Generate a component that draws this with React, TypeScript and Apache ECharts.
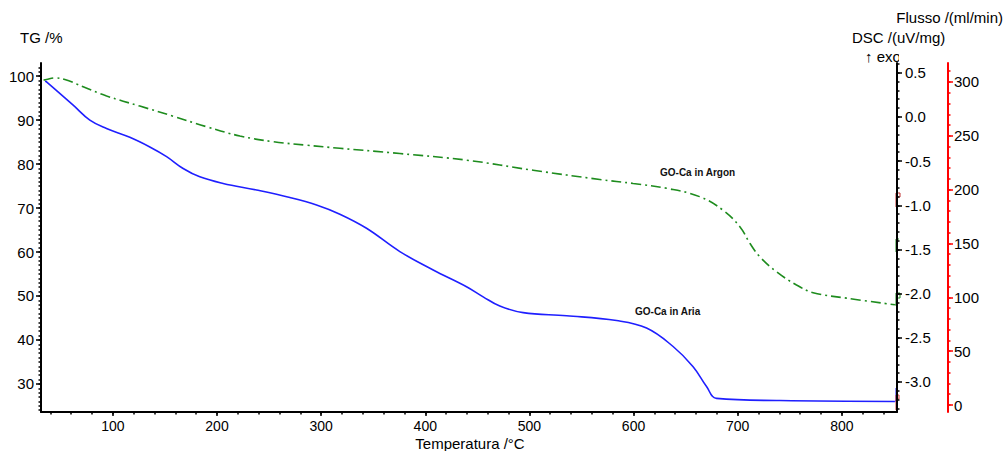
import React, { useEffect, useRef } from "react";
import * as echarts from "echarts";

// ---- data ----
const tempAria = [35, 36.3, 61.9, 77.9, 93.9, 116.3, 135.5, 151.6, 167.5, 183.5, 205.9, 238, 270, 295.6, 318, 343.6, 375.6, 407.6, 439.6, 455.6, 471.6, 494, 535.7, 583.7, 612.5, 638, 657.2, 670.1, 679.7, 740.5, 851];
const tgAria = [98.9, 98.7, 93.4, 90.0, 88.1, 86.1, 83.9, 81.7, 79.0, 77.1, 75.6, 74.1, 72.4, 70.7, 68.6, 65.4, 60.1, 55.9, 52.1, 49.8, 47.7, 46.2, 45.5, 44.4, 42.7, 38.5, 33.9, 29.4, 26.7, 26.2, 26.0];

const tempArgon = [33.5, 36.3, 44.3, 53.9, 71.5, 94, 125.9, 157.9, 190, 222, 253.9, 286, 318, 375.6, 439.6, 503.6, 567.6, 599.6, 631.7, 663.4, 686, 702.1, 711.7, 721.3, 737.3, 756.5, 772.5, 804.5, 851];
const tgArgon = [99.1, 99.25, 99.6, 99.25, 97.6, 95.5, 93.2, 90.9, 88.5, 86.4, 85.1, 84.3, 83.6, 82.4, 80.9, 78.6, 76.5, 75.6, 74.5, 72.6, 69.5, 65.75, 62.0, 58.9, 55.5, 52.5, 50.75, 49.5, 48.0];

const xTicks = [100, 200, 300, 400, 500, 600, 700, 800];
const tgTicks = [30, 40, 50, 60, 70, 80, 90, 100];
const dscTicks = [-3.0, -2.5, -2.0, -1.5, -1.0, -0.5, 0.0, 0.5];
const flowTicks = [0, 50, 100, 150, 200, 250, 300];

const xRange = [31, 853];
const tgRange = [23.6, 103];
const dscRange = [-3.34, 0.61];
const flowRange = [-6.5, 317.6];

function steps(from: number, to: number, step: number): number[] {
  const out: number[] = [];
  const n = Math.round((to - from) / step);
  for (let i = 0; i <= n; i++) out.push(Math.round((from + i * step) * 1000) / 1000);
  return out;
}

const FONT = "'Liberation Sans', Arial, Helvetica, sans-serif";

export default function App() {
  const ref = useRef<HTMLDivElement>(null);
  useEffect(() => {
    document.body.style.margin = "0";
    if (!ref.current) return;
    const chart = echarts.init(ref.current, undefined, { renderer: "svg" });

    const xMinor = steps(40, 840, 20);
    const tgMinor = steps(24, 102, 1);
    const dscMinor = steps(-3.3, 0.6, 0.1);
    const flowMinor = steps(0, 310, 10);

    const lbl = { color: "#000", fontSize: 15, fontFamily: FONT };
    const blank = () => "";

    const minorAxis = (range: number[], vals: number[], color: string, extra: any) => ({
      type: "value", min: range[0], max: range[1],
      axisLine: { show: true, onZero: false, lineStyle: { color: "rgba(0,0,0,0)", width: 0 } },
      axisTick: { show: true, length: 2.5, customValues: vals, lineStyle: { color, width: 1.5 } },
      axisLabel: { show: true, customValues: vals, formatter: blank },
      splitLine: { show: false },
      ...extra,
    });

    const option: any = {
      animation: false,
      backgroundColor: "#fff",
      grid: { left: 41, right: 110, top: 63, bottom: 39 },
      xAxis: [
        {
          type: "value", min: xRange[0], max: xRange[1], position: "bottom",
          axisLine: { show: true, onZero: false, lineStyle: { color: "#000", width: 2 } },
          axisTick: { show: true, length: 4, customValues: xTicks, lineStyle: { color: "#000", width: 1.5 } },
          axisLabel: { ...lbl, fontSize: 14, customValues: xTicks, margin: 7 },
          splitLine: { show: false },
        },
        minorAxis(xRange, xMinor, "#000", { position: "bottom" }),
      ],
      yAxis: [
        {
          type: "value", min: tgRange[0], max: tgRange[1], position: "left",
          axisLine: { show: true, onZero: false, lineStyle: { color: "#000", width: 2 } },
          axisTick: { show: true, length: 5, customValues: tgTicks, lineStyle: { color: "#000", width: 1.5 } },
          axisLabel: { ...lbl, customValues: tgTicks, margin: 7 },
          splitLine: { show: false },
        },
        minorAxis(tgRange, tgMinor, "#000", { position: "left" }),
        {
          type: "value", min: dscRange[0], max: dscRange[1], position: "right", offset: 0,
          axisLine: { show: true, onZero: false, lineStyle: { color: "#000", width: 2 } },
          axisTick: { show: true, length: 5, customValues: dscTicks, lineStyle: { color: "#000", width: 1.5 } },
          axisLabel: { ...lbl, customValues: dscTicks, margin: 8, formatter: (v: number) => v.toFixed(1) },
          splitLine: { show: false },
        },
        minorAxis(dscRange, dscMinor, "#000", { position: "right", offset: 0 }),
        {
          type: "value", min: flowRange[0], max: flowRange[1], position: "right", offset: 51,
          axisLine: { show: true, onZero: false, lineStyle: { color: "#ff0000", width: 2 } },
          axisTick: { show: true, length: 5, customValues: flowTicks, lineStyle: { color: "#ff0000", width: 1.5 } },
          axisLabel: { ...lbl, customValues: flowTicks, margin: 6 },
          splitLine: { show: false },
        },
        minorAxis(flowRange, flowMinor, "#ff0000", { position: "right", offset: 51 }),
      ],
      series: [
        {
          name: "GO-Ca in Aria", type: "line", xAxisIndex: 0, yAxisIndex: 0,
          data: tempAria.map((t, i) => [t, tgAria[i]]),
          showSymbol: false, smooth: 0.4,
          lineStyle: { color: "#1f1fff", width: 1.6 },
        },
        {
          name: "GO-Ca in Argon", type: "line", xAxisIndex: 0, yAxisIndex: 0,
          data: tempArgon.map((t, i) => [t, tgArgon[i]]),
          showSymbol: false, smooth: 0.4,
          lineStyle: { color: "#1e8c1e", width: 1.6, type: [10, 4, 2, 4] },
        },
      ],
      graphic: [
        { type: "text", x: 20, y: 37, style: { text: "TG /%", fontSize: 15, fontFamily: FONT, fill: "#000", align: "left", verticalAlign: "middle" } },
        { type: "text", x: 1003, y: 17, style: { text: "Flusso /(ml/min)", fontSize: 15, fontFamily: FONT, fill: "#000", align: "right", verticalAlign: "middle" } },
        { type: "text", x: 852, y: 37, style: { text: "DSC /(uV/mg)", fontSize: 15, fontFamily: FONT, fill: "#000", align: "left", verticalAlign: "middle" } },
        { type: "text", x: 865, y: 56, style: { text: "↑ exo", fontSize: 15, fontFamily: FONT, fill: "#000", align: "left", verticalAlign: "middle" } },
        { type: "rect", shape: { x: 899, y: 46, width: 24, height: 16 }, style: { fill: "#fff" }, z: 100 },
        { type: "text", x: 470, y: 443, style: { text: "Temperatura /°C", fontSize: 15, fontFamily: FONT, fill: "#000", align: "center", verticalAlign: "middle" } },
        { type: "text", x: 660, y: 172, style: { text: "GO-Ca in Argon", fontSize: 10, fontWeight: "bold", fontFamily: FONT, fill: "#111", align: "left", verticalAlign: "middle" } },
        { type: "text", x: 635, y: 311, style: { text: "GO-Ca in Aria", fontSize: 10, fontWeight: "bold", fontFamily: FONT, fill: "#111", align: "left", verticalAlign: "middle" } },
        // small end-of-curve flags near the DSC axis
        { type: "polyline", shape: { points: [[896, 207], [896, 193], [900, 193], [900, 197], [896, 197]] }, style: { stroke: "#c03030", lineWidth: 1, fill: "none" } },
        { type: "polyline", shape: { points: [[896, 252], [896, 239], [899, 239]] }, style: { stroke: "#1e8c1e", lineWidth: 1, fill: "none" } },
        { type: "polyline", shape: { points: [[895, 305], [896, 305], [896, 293], [900, 293], [900, 298], [896, 298]] }, style: { stroke: "#1e8c1e", lineWidth: 1, fill: "none" } },
        { type: "polyline", shape: { points: [[895, 401], [896, 401], [896, 388], [898, 388]] }, style: { stroke: "#1f1fff", lineWidth: 1, fill: "none" } },
        { type: "polyline", shape: { points: [[896, 410], [896, 395], [899, 395], [899, 399], [896, 399]] }, style: { stroke: "#d04040", lineWidth: 1, fill: "none" } },
      ],
    };
    chart.setOption(option);
    return () => chart.dispose();
  }, []);
  return <div ref={ref} style={{ width: 1007, height: 451 }} />;
}
